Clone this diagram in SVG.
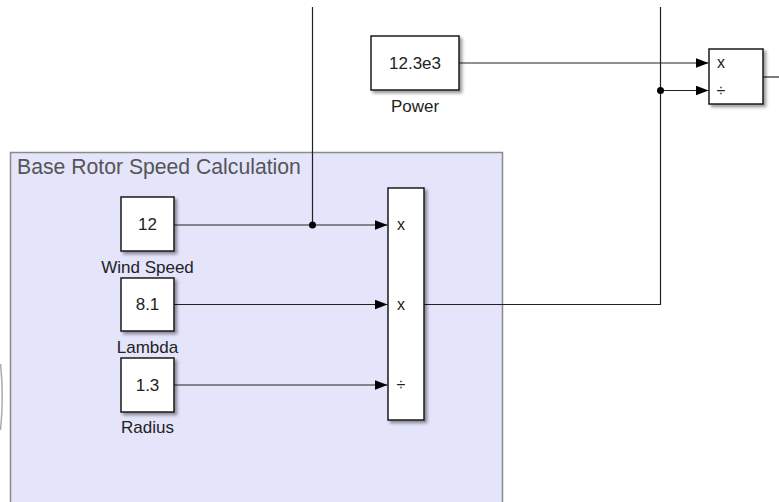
<svg xmlns="http://www.w3.org/2000/svg" width="779" height="502" viewBox="0 0 779 502">
  <defs>
    <filter id="sh" x="-30%" y="-30%" width="170%" height="170%">
      <feDropShadow dx="2.5" dy="2.5" stdDeviation="1.8" flood-color="#000" flood-opacity="0.4"/>
    </filter>
    <marker id="arr" viewBox="0 0 13 10" refX="13" refY="5" markerWidth="13" markerHeight="10" markerUnits="userSpaceOnUse" orient="auto">
      <path d="M0,0 L13,5 L0,10 Z" fill="#000"/>
    </marker>
    <style>
      .blk { fill: #fff; stroke: #1a1a1a; stroke-width: 1.5; filter: url(#sh); }
      .val { font-family: "Liberation Sans", Arial, sans-serif; font-size: 17px; fill: #222; text-anchor: middle; }
      .lbl { font-family: "Liberation Sans", Arial, sans-serif; font-size: 17px; fill: #222; text-anchor: middle; }
      .port { font-family: "Liberation Sans", Arial, sans-serif; font-size: 16px; fill: #222; text-anchor: middle; }
      .wire { fill: none; stroke: #222; stroke-width: 1.2; }
      .dot { fill: #000; }
    </style>
  </defs>
  <rect width="779" height="502" fill="#fff"/>

  <g id="subsystem">
    <rect x="10.5" y="152.5" width="492" height="370" fill="#e4e4fb" stroke="#8a8a8a" stroke-width="1.5"/>
    <text x="17" y="174" font-family="Liberation Sans, Arial, sans-serif" font-size="21.2" fill="#555">Base Rotor Speed Calculation</text>
  </g>

  <path d="M0.5,364 Q4,396 0.5,430" fill="none" stroke="#aaa" stroke-width="1.5"/>

  <g id="connectors">
    <path class="wire" d="M174,225 H387.5" marker-end="url(#arr)"/>
    <path class="wire" d="M312.5,7 V225"/>
    <circle class="dot" cx="312.5" cy="225" r="3.5"/>
    <path class="wire" d="M174,304.5 H387.5" marker-end="url(#arr)"/>
    <path class="wire" d="M174,385 H387.5" marker-end="url(#arr)"/>
    <path class="wire" d="M424,304.5 H660.5 V7"/>
    <path class="wire" d="M459,63 H708.5" marker-end="url(#arr)"/>
    <path class="wire" d="M660.5,90.5 H708.5" marker-end="url(#arr)"/>
    <circle class="dot" cx="660.5" cy="90.5" r="3.5"/>
    <path class="wire" d="M763,77 H779"/>
  </g>

  <g id="power">
    <rect class="blk" x="371" y="36" width="88" height="54"/>
    <text class="val" x="415" y="69">12.3e3</text>
    <text class="lbl" x="415" y="112">Power</text>
  </g>

  <g id="product-top">
    <rect class="blk" x="709" y="49" width="54" height="55"/>
    <text class="port" x="721" y="68">x</text>
    <text class="port" x="721" y="96">÷</text>
  </g>

  <g id="wind-speed">
    <rect class="blk" x="121" y="197" width="53" height="54"/>
    <text class="val" x="147.5" y="229.5">12</text>
    <text class="lbl" x="147.5" y="273">Wind Speed</text>
  </g>

  <g id="lambda">
    <rect class="blk" x="121" y="278" width="53" height="53"/>
    <text class="val" x="147.5" y="309.5">8.1</text>
    <text class="lbl" x="147.5" y="353">Lambda</text>
  </g>

  <g id="radius">
    <rect class="blk" x="121" y="358" width="53" height="54"/>
    <text class="val" x="147.5" y="390.5">1.3</text>
    <text class="lbl" x="147.5" y="433">Radius</text>
  </g>

  <g id="product-main">
    <rect class="blk" x="388" y="188" width="36" height="232"/>
    <text class="port" x="401" y="230">x</text>
    <text class="port" x="401" y="310">x</text>
    <text class="port" x="401" y="390">÷</text>
  </g>
</svg>
